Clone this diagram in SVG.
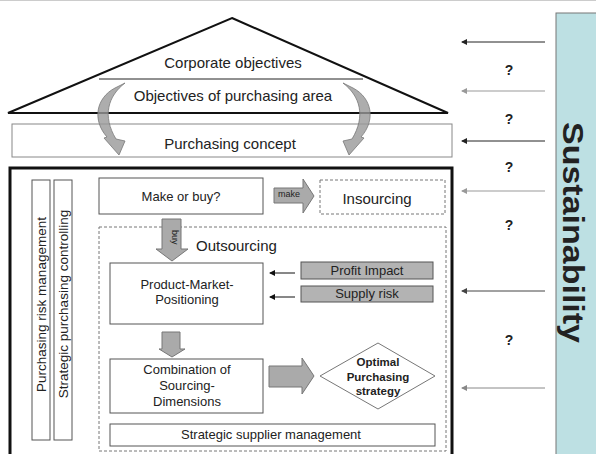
<svg xmlns="http://www.w3.org/2000/svg" width="596" height="454" viewBox="0 0 596 454">
<defs>
<marker id="ah" viewBox="0 0 6 6" refX="5" refY="3" markerWidth="6" markerHeight="6" markerUnits="userSpaceOnUse" orient="auto">
<path d="M0,0 L6,3 L0,6 Z" fill="context-stroke"/>
</marker>
<style>
text{font-family:"Liberation Sans",Arial,sans-serif;fill:#222}
.t15{font-size:15px;text-anchor:middle}
.t13{font-size:13px;text-anchor:middle}
.box{fill:#fff;stroke:#555;stroke-width:1}
.gbox{fill:#fff;stroke:#888;stroke-width:1}
.dash{fill:none;stroke:#777;stroke-width:1;stroke-dasharray:3 2}
.blk{fill:#aaa;stroke:#777;stroke-width:1}
.gray{fill:#b3b3b3;stroke:#555;stroke-width:1}
.curve{fill:#999;fill-opacity:0.8;stroke:#777;stroke-width:0.8}
.q{font-size:14px;font-weight:bold;text-anchor:middle}
</style>
</defs>
<rect x="0" y="0" width="596" height="454" fill="#fff"/>
<line x1="0" y1="0.5" x2="596" y2="0.5" stroke="#ccc"/>

<g id="sustainability">
<rect x="556" y="13" width="45" height="450" fill="#bde0e3" stroke="#777"/>
<text transform="translate(563,122) rotate(90)" font-size="29" font-weight="bold" textLength="221" lengthAdjust="spacingAndGlyphs">Sustainability</text>
</g>

<g id="roof">
<polygon points="232,18 448,113 8,113" fill="#fff" stroke="#111" stroke-width="2" stroke-linejoin="miter"/>
<line x1="99" y1="79" x2="363" y2="79" stroke="#222" stroke-width="1"/>
<text class="t15" x="233" y="68">Corporate objectives</text>
<text class="t15" x="233" y="101">Objectives of purchasing area</text>
</g>

<g id="purchasing-concept">
<rect class="gbox" x="12" y="124" width="440" height="33"/>
<text class="t15" x="230" y="149">Purchasing concept</text>
</g>

<g id="main-frame">
<rect x="10" y="168" width="442" height="300" fill="none" stroke="#111" stroke-width="3"/>
</g>

<g id="risk-management">
<rect class="box" x="32" y="180" width="18" height="260"/>
<text transform="translate(46,304.5) rotate(-90)" font-size="13.5" text-anchor="middle">Purchasing risk management</text>
</g>
<g id="controlling">
<rect class="box" x="54" y="180" width="18" height="260"/>
<text transform="translate(68,304) rotate(-90)" font-size="13.5" text-anchor="middle">Strategic purchasing controlling</text>
</g>

<g id="make-or-buy">
<rect class="box" x="99" y="178" width="164" height="36"/>
<text class="t13" x="181" y="201">Make or buy?</text>
</g>

<g id="insourcing">
<rect class="dash" x="320" y="180" width="125" height="34"/>
<text class="t15" x="377" y="204">Insourcing</text>
</g>

<g id="outsourcing">
<rect class="dash" x="99" y="227" width="347" height="224"/>
<text x="196" y="251" font-size="15">Outsourcing</text>
</g>

<g id="pmp">
<rect class="box" x="110" y="263" width="153" height="61"/>
<text class="t13" x="187" y="289">Product-Market-</text>
<text class="t13" x="187" y="304">Positioning</text>
</g>

<g id="profit-impact">
<rect class="gray" x="301" y="262" width="132" height="17"/>
<text class="t13" x="367" y="275">Profit Impact</text>
</g>
<g id="supply-risk">
<rect class="gray" x="301" y="286" width="132" height="16"/>
<text class="t13" x="367" y="298">Supply risk</text>
</g>

<g id="combination">
<rect class="box" x="110" y="359" width="153" height="54"/>
<text class="t13" x="187" y="374">Combination of</text>
<text class="t13" x="187" y="390">Sourcing-</text>
<text class="t13" x="187" y="406">Dimensions</text>
</g>

<g id="optimal">
<polygon points="320,376 378,343 435,376 378,409" fill="#fff" stroke="#777"/>
<text x="378" y="366" font-size="11.5" font-weight="bold" text-anchor="middle">Optimal</text>
<text x="378" y="381" font-size="11.5" font-weight="bold" text-anchor="middle">Purchasing</text>
<text x="378" y="395" font-size="11.5" font-weight="bold" text-anchor="middle">strategy</text>
</g>

<g id="supplier-management">
<rect class="box" x="110" y="424" width="325" height="22"/>
<text class="t13" x="271" y="439">Strategic supplier management</text>
</g>

<g id="connectors">
<path class="curve" d="M115,88 L125,83 C108,96 102,116 116,139 L125,141 L119,155 L104,138 L107,137 C92,120 96,98 115,88 Z"/>
<path class="curve" transform="translate(468,0) scale(-1,1)" d="M115,88 L125,83 C108,96 102,116 116,139 L125,141 L119,155 L104,138 L107,137 C92,120 96,98 115,88 Z"/>

<polygon class="blk" points="274,188 303,188 303,179 314,196 303,213 303,203 274,203"/>
<text x="289" y="197" font-size="9" text-anchor="middle">make</text>

<polygon class="blk" points="162,219 181,219 181,249 188,249 172,261 156,249 162,249"/>
<text transform="translate(172,230) rotate(90)" font-size="9">buy</text>

<polygon class="blk" points="162,332 180,332 180,349 185,349 172,357 159,349 162,349"/>

<polygon class="blk" points="269,366 302,366 302,358 314,376 302,394 302,387 269,387"/>

<line x1="295" y1="273" x2="270" y2="273" stroke="#111" marker-end="url(#ah)"/>
<line x1="295" y1="297" x2="270" y2="297" stroke="#111" marker-end="url(#ah)"/>

<line x1="545" y1="42" x2="462" y2="42" stroke="#222" marker-end="url(#ah)"/>
<line x1="545" y1="91" x2="462" y2="91" stroke="#999" marker-end="url(#ah)"/>
<line x1="545" y1="141" x2="462" y2="141" stroke="#222" marker-end="url(#ah)"/>
<line x1="545" y1="191" x2="462" y2="191" stroke="#999" marker-end="url(#ah)"/>
<line x1="545" y1="291" x2="462" y2="291" stroke="#444" marker-end="url(#ah)"/>
<line x1="545" y1="388" x2="462" y2="388" stroke="#888" marker-end="url(#ah)"/>
</g>

<g id="questions">
<text class="q" x="509" y="75">?</text>
<text class="q" x="509" y="124">?</text>
<text class="q" x="509" y="172">?</text>
<text class="q" x="509" y="230">?</text>
<text class="q" x="509" y="345">?</text>
</g>
</svg>
